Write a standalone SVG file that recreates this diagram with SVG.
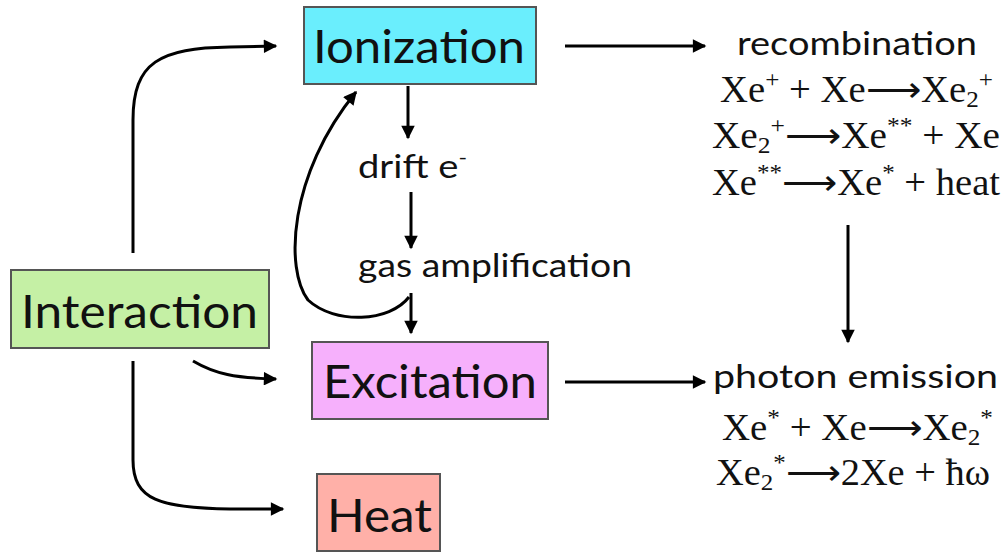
<svg xmlns="http://www.w3.org/2000/svg" width="1005" height="552" viewBox="0 0 1005 552">
<style>
.box{stroke:#555;stroke-width:2}
.lbl{font-family:Lato,"Open Sans",sans-serif;fill:#111}
.big{font-size:46px}
.mid{font-size:33px}
.eq{font-family:"Liberation Serif",serif;font-size:37px;fill:#111}
.c{fill:none;stroke:#000;stroke-width:3}
</style>
<defs>
<marker id="ah" viewBox="0 0 10 10" refX="9" refY="5" markerWidth="5" markerHeight="4.5" orient="auto" markerUnits="strokeWidth">
<path d="M0,0 L10,5 L0,10 Z" fill="#000"/>
</marker>
</defs>
<rect width="1005" height="552" fill="#fff"/>
<g id="connectors">
<path class="c" d="M133,253 L133,120 C133,62 160,48 230,47 L276,46" marker-end="url(#ah)"/>
<path class="c" d="M193,361 C215,374 235,378 276,379" marker-end="url(#ah)"/>
<path class="c" d="M133,361 L133,460 C133,500 160,508 230,509 L283,509" marker-end="url(#ah)"/>
<path class="c" d="M565,46 L705,46" marker-end="url(#ah)"/>
<path class="c" d="M408,86 L408,138" marker-end="url(#ah)"/>
<path class="c" d="M411,192 L411,248" marker-end="url(#ah)"/>
<path class="c" d="M411,293 L411,333" marker-end="url(#ah)"/>
<path class="c" d="M409,297 C390,322 335,325 308,300 C285,270 288,175 356,92" marker-end="url(#ah)"/>
<path class="c" d="M565,382 L705,382" marker-end="url(#ah)"/>
<path class="c" d="M848,225 L848,342" marker-end="url(#ah)"/>
</g>
<g id="ionization">
<rect class="box" x="304" y="7" width="232" height="77" fill="#6AEEFD"/>
<text class="lbl big" x="313" y="63" textLength="212" lengthAdjust="spacingAndGlyphs">Ionization</text>
</g>
<g id="interaction">
<rect class="box" x="11" y="270" width="258" height="78" fill="#C5F0A5"/>
<text class="lbl big" x="21" y="328" textLength="237" lengthAdjust="spacingAndGlyphs">Interaction</text>
</g>
<g id="excitation">
<rect class="box" x="312" y="342" width="236" height="77" fill="#F6B0FC"/>
<text class="lbl big" x="323" y="398" textLength="214" lengthAdjust="spacingAndGlyphs">Excitation</text>
</g>
<g id="heat">
<rect class="box" x="317" y="474" width="123" height="77" fill="#FFB0A8"/>
<text class="lbl big" x="327" y="532" textLength="105" lengthAdjust="spacingAndGlyphs">Heat</text>
</g>
<g id="drift">
<text class="lbl mid" x="358" y="178" textLength="109" lengthAdjust="spacingAndGlyphs">drift e<tspan font-size="20" dy="-14">-</tspan></text>
</g>
<g id="gas-amplification">
<text class="lbl mid" x="358" y="277" textLength="274" lengthAdjust="spacingAndGlyphs">gas amplification</text>
</g>
<g id="recombination">
<text class="lbl mid" x="737" y="55" textLength="240" lengthAdjust="spacingAndGlyphs">recombination</text>
<text class="eq" x="720" y="102" textLength="273" lengthAdjust="spacingAndGlyphs">Xe<tspan font-size="24" dy="-15">+</tspan><tspan dy="15"> + Xe⟶Xe</tspan><tspan font-size="24" dy="5">2</tspan><tspan font-size="24" dy="-20">+</tspan></text>
<text class="eq" x="712" y="148" textLength="288" lengthAdjust="spacingAndGlyphs">Xe<tspan font-size="24" dy="5">2</tspan><tspan font-size="24" dy="-20">+</tspan><tspan dy="15">⟶Xe</tspan><tspan font-size="24" dy="-15">**</tspan><tspan dy="15"> + Xe</tspan></text>
<text class="eq" x="712" y="195" textLength="288" lengthAdjust="spacingAndGlyphs">Xe<tspan font-size="24" dy="-15">**</tspan><tspan dy="15">⟶Xe</tspan><tspan font-size="24" dy="-15">*</tspan><tspan dy="15"> + heat</tspan></text>
</g>
<g id="photon-emission">
<text class="lbl mid" x="713" y="388" textLength="285" lengthAdjust="spacingAndGlyphs">photon emission</text>
<text class="eq" x="722" y="440" textLength="271" lengthAdjust="spacingAndGlyphs">Xe<tspan font-size="24" dy="-15">*</tspan><tspan dy="15"> + Xe⟶Xe</tspan><tspan font-size="24" dy="5">2</tspan><tspan font-size="24" dy="-20">*</tspan></text>
<text class="eq" x="716" y="485" textLength="274" lengthAdjust="spacingAndGlyphs">Xe<tspan font-size="24" dy="5">2</tspan><tspan font-size="24" dy="-20">*</tspan><tspan dy="15">⟶2Xe + ħω</tspan></text>
</g>
</svg>
